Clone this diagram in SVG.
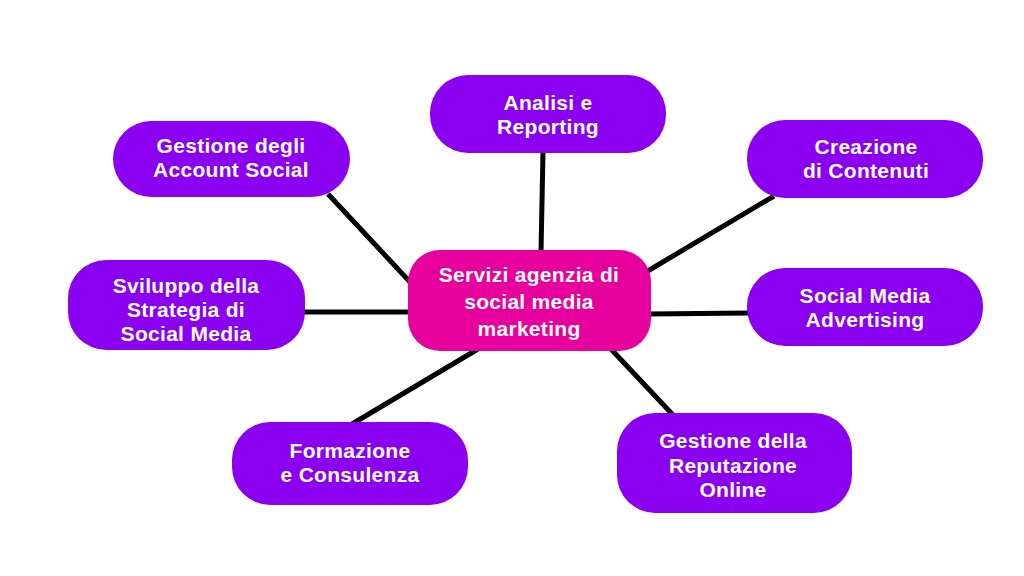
<svg xmlns="http://www.w3.org/2000/svg" width="1024" height="576" viewBox="0 0 1024 576">
<style>
.n{fill:#8B00F0}
.c{fill:#E8009E}
.t{font-family:"Liberation Sans",Arial,sans-serif;font-weight:700;font-size:21px;letter-spacing:0.3px;fill:#fff;text-anchor:middle}
.e{stroke:#000;stroke-width:5;fill:none}
</style>
<rect width="1024" height="576" fill="#fff"/>
<g id="connectors">
<line class="e" x1="543" y1="152" x2="541" y2="252"/>
<line class="e" x1="328" y1="194" x2="410" y2="282"/>
<line class="e" x1="774" y1="196" x2="646" y2="272"/>
<line class="e" x1="303" y1="312" x2="410" y2="312"/>
<line class="e" x1="648" y1="314" x2="750" y2="313"/>
<line class="e" x1="352" y1="424" x2="478" y2="349"/>
<line class="e" x1="610" y1="348" x2="673" y2="415"/>
</g>
<g id="center">
<rect class="c" x="408" y="250" width="243" height="101" rx="32"/>
<text class="t" x="529" y="282">Servizi agenzia di</text>
<text class="t" x="529" y="309">social media</text>
<text class="t" x="529" y="336">marketing</text>
</g>
<g id="analisi">
<rect class="n" x="430" y="75" width="236" height="78" rx="38"/>
<text class="t" x="548" y="110">Analisi e</text>
<text class="t" x="548" y="134">Reporting</text>
</g>
<g id="account">
<rect class="n" x="113" y="121" width="237" height="76" rx="38"/>
<text class="t" x="231" y="153">Gestione degli</text>
<text class="t" x="231" y="177">Account Social</text>
</g>
<g id="contenuti">
<rect class="n" x="747" y="120" width="236" height="78" rx="38"/>
<text class="t" x="866" y="154">Creazione</text>
<text class="t" x="866" y="178">di Contenuti</text>
</g>
<g id="strategia">
<rect class="n" x="68" y="260" width="237" height="90" rx="38"/>
<text class="t" x="186" y="293">Sviluppo della</text>
<text class="t" x="186" y="317">Strategia di</text>
<text class="t" x="186" y="341">Social Media</text>
</g>
<g id="advertising">
<rect class="n" x="747" y="268" width="236" height="78" rx="38"/>
<text class="t" x="865" y="303">Social Media</text>
<text class="t" x="865" y="327">Advertising</text>
</g>
<g id="formazione">
<rect class="n" x="232" y="422" width="236" height="83" rx="38"/>
<text class="t" x="350" y="458">Formazione</text>
<text class="t" x="350" y="482">e Consulenza</text>
</g>
<g id="reputazione">
<rect class="n" x="617" y="413" width="235" height="100" rx="38"/>
<text class="t" x="733" y="448">Gestione della</text>
<text class="t" x="733" y="473">Reputazione</text>
<text class="t" x="733" y="497">Online</text>
</g>
</svg>
